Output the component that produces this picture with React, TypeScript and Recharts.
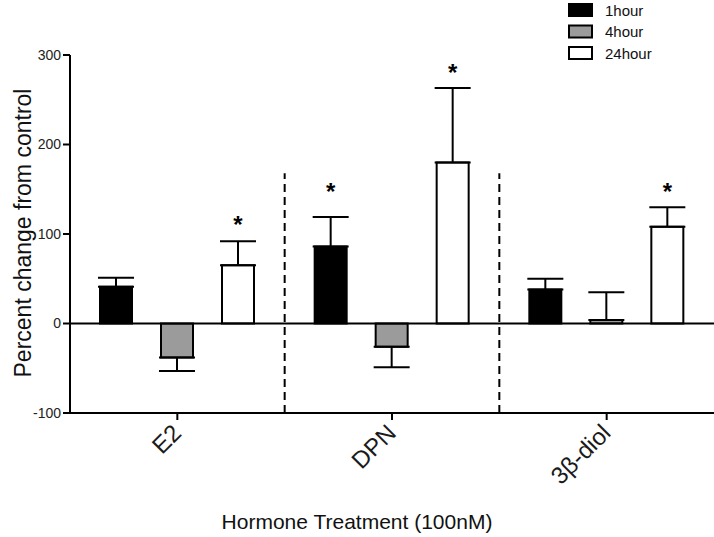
import {
  BarChart,
  Bar,
  XAxis,
  YAxis,
  ErrorBar,
  ReferenceLine,
  LabelList,
} from "recharts";

const categories = ["E2", "DPN", "3β-diol"];
const mean1h = [41, 86, 38];
const mean4h = [-38, -26, 4];
const mean24h = [65, 180, 108];
const sem1h = [10, 33, 12];
const sem4h = [15, 23, 31];
const sem24h = [27, 83, 22];
// asterisk positions (in y-axis units), null = not significant
const star1h = [null, 152, null];
const star24h = [116, 285, 152];
const yTicks = [-100, 0, 100, 200, 300];
// dashed dividers sit at the left edge of these categories
const dividerCats = ["DPN", "3β-diol"];
const dividerTop = 168;

const FONT = "'Liberation Sans', Arial, Helvetica, sans-serif";

// one-sided error: up for positive bars, down for negative bars
function oneSided(v: number, e: number): [number, number] {
  return v >= 0 ? [0, e] : [e, 0];
}

const data = categories.map((name, i) => ({
  name,
  h1: mean1h[i],
  h4: mean4h[i],
  h24: mean24h[i],
  e1: oneSided(mean1h[i], sem1h[i]),
  e4: oneSided(mean4h[i], sem4h[i]),
  e24: oneSided(mean24h[i], sem24h[i]),
  s1: star1h[i],
  s24: star24h[i],
}));

const series = [
  { key: "h1", err: "e1", star: "s1", fill: "#000000", label: "1hour" },
  { key: "h4", err: "e4", star: null, fill: "#9b9b9b", label: "4hour" },
  { key: "h24", err: "e24", star: "s24", fill: "#ffffff", label: "24hour" },
];

function XTick(props: any) {
  const { x, y, payload } = props;
  return (
    <g transform={`translate(${x - 7},${y})`}>
      <text
        x={0}
        y={0}
        transform="rotate(-45)"
        textAnchor="end"
        dominantBaseline="hanging"
        fontSize={24}
        fill="#1a1a1a"
        fontFamily={FONT}
      >
        {payload.value}
      </text>
    </g>
  );
}

function makeStar(barKey: string, starKey: string) {
  return function Star(props: any) {
    const { x, y, width, height, index } = props;
    const d: any = data[index];
    const s = d[starKey];
    const v = d[barKey];
    if (s == null || !v) return null;
    const pxPerUnit = height / v;
    const base = y + height;
    const cy = base - s * pxPerUnit;
    return (
      <text
        x={x + width / 2}
        y={cy + 13}
        textAnchor="middle"
        fontSize={24}
        fontWeight="bold"
        fill="#000"
        fontFamily={FONT}
      >
        *
      </text>
    );
  };
}

export default function App() {
  return (
    <div
      style={{
        position: "absolute",
        left: 0,
        top: 0,
        width: 714,
        height: 537,
        background: "#fff",
      }}
    >
      <BarChart
        width={714}
        height={537}
        data={data}
        margin={{ top: 55, right: 0, left: 0, bottom: 0 }}
        barSize={32}
        barGap={29}
        barCategoryGap={30}
      >
        <XAxis
          dataKey="name"
          height={124}
          axisLine={{ stroke: "#000", strokeWidth: 2 }}
          tickLine={{ stroke: "#000", strokeWidth: 2 }}
          tickSize={7}
          tick={<XTick />}
          interval={0}
        />
        <YAxis
          width={70}
          domain={[-100, 300]}
          ticks={yTicks}
          interval={0}
          axisLine={{ stroke: "#000", strokeWidth: 2 }}
          tickLine={{ stroke: "#000", strokeWidth: 2 }}
          tickSize={7}
          tickMargin={2}
          tick={{ fontSize: 14, fill: "#222", fontFamily: FONT }}
        />
        {dividerCats.map((c) => (
          <ReferenceLine
            key={c}
            position="start"
            segment={[
              { x: c, y: -100 },
              { x: c, y: dividerTop },
            ]}
            stroke="#000"
            strokeWidth={2}
            strokeDasharray="8 5"
          />
        ))}
        <ReferenceLine y={0} stroke="#000" strokeWidth={2} />
        {series.map((s) => (
          <Bar
            key={s.key}
            dataKey={s.key}
            fill={s.fill}
            stroke="#000"
            strokeWidth={2}
            isAnimationActive={false}
          >
            <ErrorBar
              dataKey={s.err}
              width={18}
              stroke="#000"
              strokeWidth={2}
              direction="y"
            />
            {s.star && (
              <LabelList dataKey={s.key} content={makeStar(s.key, s.star)} />
            )}
          </Bar>
        ))}
        {/* legend */}
        {series.map((s, i) => (
          <g key={s.key}>
            <rect
              x={569}
              y={4 + i * 21.5}
              width={23}
              height={12}
              fill={s.fill}
              stroke="#000"
              strokeWidth={2}
            />
            <text
              x={605}
              y={10 + i * 21.5}
              dominantBaseline="central"
              fontSize={15}
              fill="#111"
              fontFamily={FONT}
            >
              {s.label}
            </text>
          </g>
        ))}
        <text
          x={23}
          y={233}
          transform="rotate(-90, 23, 233)"
          textAnchor="middle"
          dominantBaseline="central"
          fontSize={23}
          fill="#111"
          fontFamily={FONT}
        >
          Percent change from control
        </text>
        <text
          x={357}
          y={521}
          textAnchor="middle"
          dominantBaseline="central"
          fontSize={21}
          fill="#111"
          fontFamily={FONT}
        >
          Hormone Treatment (100nM)
        </text>
      </BarChart>
    </div>
  );
}
